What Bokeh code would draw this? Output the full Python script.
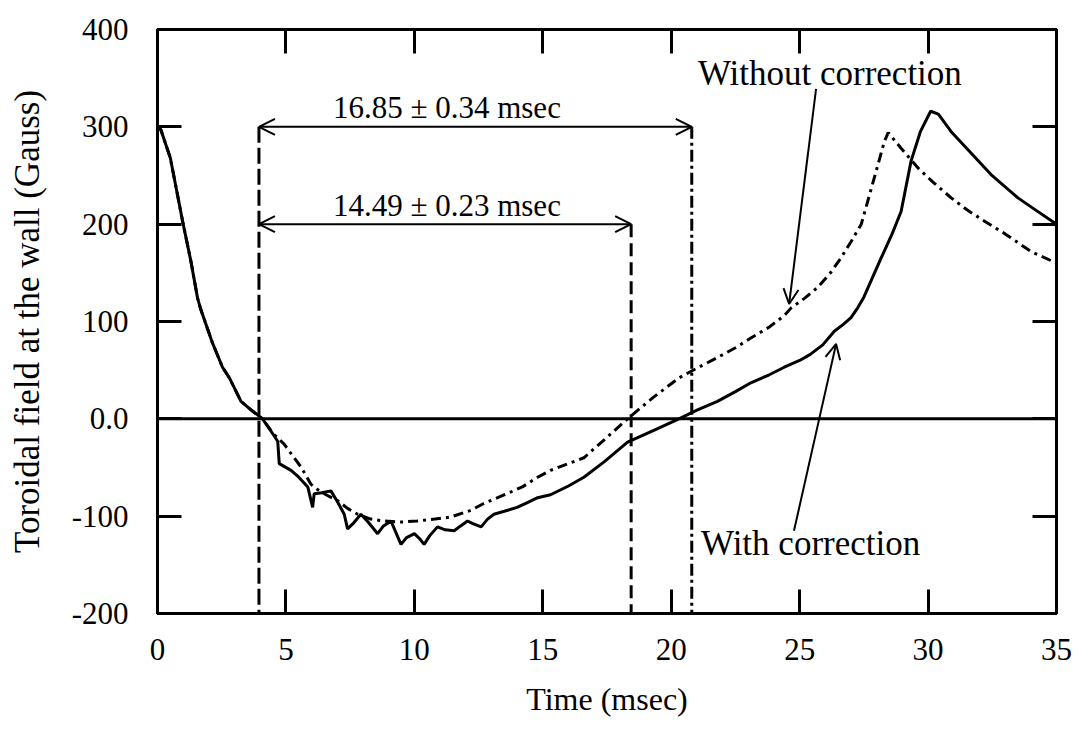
from bokeh.plotting import figure
from bokeh.models import (LinearAxis, FixedTicker, Arrow, OpenHead, Span,
                          Label, Range1d)
from bokeh.embed import file_html
from bokeh.resources import INLINE

FONT = "Liberation Serif"

# Toroidal field at the wall, corrected signal (solid trace)
time_with = [0.0, 0.13, 0.5, 1.0, 1.3, 1.56, 1.69, 2.14, 2.53, 2.8, 3.25, 3.7,
             4.09, 4.4, 4.68, 4.74, 5.2, 5.5, 5.85, 6.04, 6.1, 6.4, 6.75, 7.0,
             7.27, 7.4, 7.6, 7.92, 8.2, 8.57, 8.8, 9.09, 9.3, 9.48, 9.7, 10.0,
             10.2, 10.38, 10.6, 10.9, 11.2, 11.55, 11.8, 12.07, 12.3, 12.6,
             12.85, 13.1, 13.5, 14.0, 14.4, 14.8, 15.3, 16.0, 16.6, 17.4, 18.3,
             19.3, 20.3, 21.0, 21.8, 22.5, 23.1, 23.8, 24.4, 25.0, 25.4, 25.9,
             26.35, 26.7, 27.0, 27.26, 27.5, 27.8, 28.17, 28.6, 28.95, 29.34,
             29.7, 30.1, 30.4, 30.9, 31.5, 32.45, 33.5, 34.05, 35.0]
field_with = [300, 297, 268, 200, 162, 124, 112, 78, 53, 42, 18, 8,
              0, -12, -23, -46, -53, -60, -70, -91, -77, -76, -74, -85,
              -98, -113, -108, -98, -106, -118, -110, -105, -118, -129, -122, -118,
              -123, -129, -120, -111, -114, -115, -110, -105, -108, -111,
              -103, -98, -95, -91, -86, -81, -78, -69, -60, -44, -24,
              -12, 0, 9, 18, 28, 37, 45, 53, 60, 66, 76,
              90, 97, 104, 114, 125, 143, 165, 190, 213, 265,
              295, 316, 313, 295, 278, 251, 227, 217, 200]

# Uncorrected signal (dash-dot trace)
time_without = [0.0, 0.13, 0.5, 1.0, 1.3, 1.56, 1.69, 2.14, 2.53, 2.8, 3.25, 3.7,
                4.09, 4.5, 4.93, 5.32, 5.6, 5.97, 6.2, 6.49, 7.01, 7.4, 7.79,
                8.3, 8.83, 9.5, 10.1, 10.8, 11.4, 12.2, 12.7, 13.6, 14.2, 14.8,
                15.3, 16.0, 16.6, 17.5, 18.3, 19.3, 20.3, 21.0, 21.8, 22.5, 23.1,
                23.8, 24.4, 24.67, 25.2, 25.7, 26.2, 26.6, 27.0, 27.4, 27.9, 28.3,
                28.45, 28.95, 29.6, 30.2, 30.9, 31.5, 32.2, 33.0, 34.0, 35.0]
field_without = [300, 297, 268, 200, 162, 124, 112, 78, 53, 42, 18, 8,
                 0, -15, -26, -40, -50, -67, -72, -77, -84, -92, -98,
                 -103, -105, -106, -105, -103, -101, -94, -87, -77, -70, -60,
                 -53, -46, -40, -19, 0, 22, 42, 52, 63, 73, 83,
                 94, 106, 114, 124, 135, 150, 165, 182, 200, 247, 285,
                 294, 278, 258, 243, 227, 215, 203, 190, 172, 160]

x_ticks = [0, 5, 10, 15, 20, 25, 30, 35]
y_ticks = [-200, -100, 0, 100, 200, 300, 400]
y_tick_labels = {-200: "-200", -100: "-100", 0: "0.0", 100: "100",
                 200: "200", 300: "300", 400: "400"}

# Timing of the field reversal
t_reversal = 3.95
durations = [16.85, 14.49]
duration_texts = ["16.85 \u00b1 0.34 msec", "14.49 \u00b1 0.23 msec"]
duration_levels = [300, 200]

p = figure(width=1082, height=739, x_range=Range1d(0, 35),
           y_range=Range1d(-200, 400), output_backend="svg",
           toolbar_location=None, min_border_left=157, min_border_right=26,
           min_border_top=29, min_border_bottom=126)
p.xgrid.visible = False
p.ygrid.visible = False
p.background_fill_color = "white"
p.border_fill_color = "white"
p.outline_line_color = "black"
p.outline_line_width = 3


def style_axis(ax, ticks):
    ax.ticker = FixedTicker(ticks=ticks)
    ax.major_tick_in = 24
    ax.major_tick_out = 0
    ax.major_tick_line_width = 3
    ax.major_tick_line_color = "black"
    ax.minor_tick_line_color = None
    ax.axis_line_width = 3
    ax.axis_line_color = "black"
    ax.major_label_text_font = FONT
    ax.major_label_text_font_size = "31px"
    ax.major_label_text_color = "black"
    ax.axis_label_text_font = FONT
    ax.axis_label_text_font_style = "normal"
    ax.axis_label_text_color = "black"


style_axis(p.xaxis[0], x_ticks)
style_axis(p.yaxis[0], y_ticks)
p.xaxis[0].axis_label = "Time (msec)"
p.xaxis[0].axis_label_text_font_size = "32px"
p.xaxis[0].major_label_standoff = 25
p.xaxis[0].axis_label_standoff = 18
p.yaxis[0].axis_label = "Toroidal field at the wall (Gauss)"
p.yaxis[0].axis_label_text_font_size = "35px"
p.yaxis[0].major_label_standoff = 29
p.yaxis[0].axis_label_standoff = 22
p.yaxis[0].major_label_overrides = y_tick_labels

# tick marks on the opposite sides of the frame, without labels
right_axis = LinearAxis()
style_axis(right_axis, y_ticks)
right_axis.major_label_overrides = {t: "" for t in y_ticks}
p.add_layout(right_axis, "right")
top_axis = LinearAxis()
style_axis(top_axis, x_ticks)
top_axis.major_label_overrides = {t: "" for t in x_ticks}
p.add_layout(top_axis, "above")

# zero line
p.add_layout(Span(location=0, dimension="width", line_color="black",
                  line_width=3))

# traces
p.line(time_with, field_with, line_color="black", line_width=3)
p.line(time_without, field_without, line_color="black", line_width=3,
       line_dash="10 5 3 5")

# vertical markers of the reversal and the two zero crossings
p.segment(x0=[t_reversal], y0=[duration_levels[0]], x1=[t_reversal], y1=[-200],
          line_color="black", line_width=3, line_dash="16 5")
p.segment(x0=[t_reversal + durations[1]], y0=[duration_levels[1]],
          x1=[t_reversal + durations[1]], y1=[-200],
          line_color="black", line_width=3, line_dash="13 6")
p.segment(x0=[t_reversal + durations[0]], y0=[duration_levels[0]],
          x1=[t_reversal + durations[0]], y1=[-200],
          line_color="black", line_width=3, line_dash="12 4 3 4")

# duration arrows with their labels
for dur, txt, lvl in zip(durations, duration_texts, duration_levels):
    p.add_layout(Arrow(start=OpenHead(size=16, line_width=2, line_color="black"),
                       end=OpenHead(size=16, line_width=2, line_color="black"),
                       x_start=t_reversal, y_start=lvl,
                       x_end=t_reversal + dur, y_end=lvl,
                       line_width=2, line_color="black"))
    p.add_layout(Label(x=6.83, y=lvl, y_offset=19, text=txt,
                       text_font=FONT, text_font_size="31px",
                       text_color="black", text_align="left",
                       text_baseline="alphabetic"))

# trace labels
p.add_layout(Label(x=21.04, y=343, y_offset=11, text="Without correction",
                   text_font=FONT, text_font_size="35px", text_color="black",
                   text_align="left", text_baseline="alphabetic"))
p.add_layout(Arrow(end=OpenHead(size=15, line_width=2, line_color="black"),
                   x_start=25.64, y_start=339, x_end=24.59, y_end=118,
                   line_width=2, line_color="black"))
p.add_layout(Label(x=21.16, y=-138, y_offset=10, text="With correction",
                   text_font=FONT, text_font_size="35px", text_color="black",
                   text_align="left", text_baseline="alphabetic"))
p.add_layout(Arrow(end=OpenHead(size=15, line_width=2, line_color="black"),
                   x_start=24.78, y_start=-115, x_end=26.42, y_end=77,
                   line_width=2, line_color="black"))

open("out.html", "w").write(file_html(p, INLINE))
